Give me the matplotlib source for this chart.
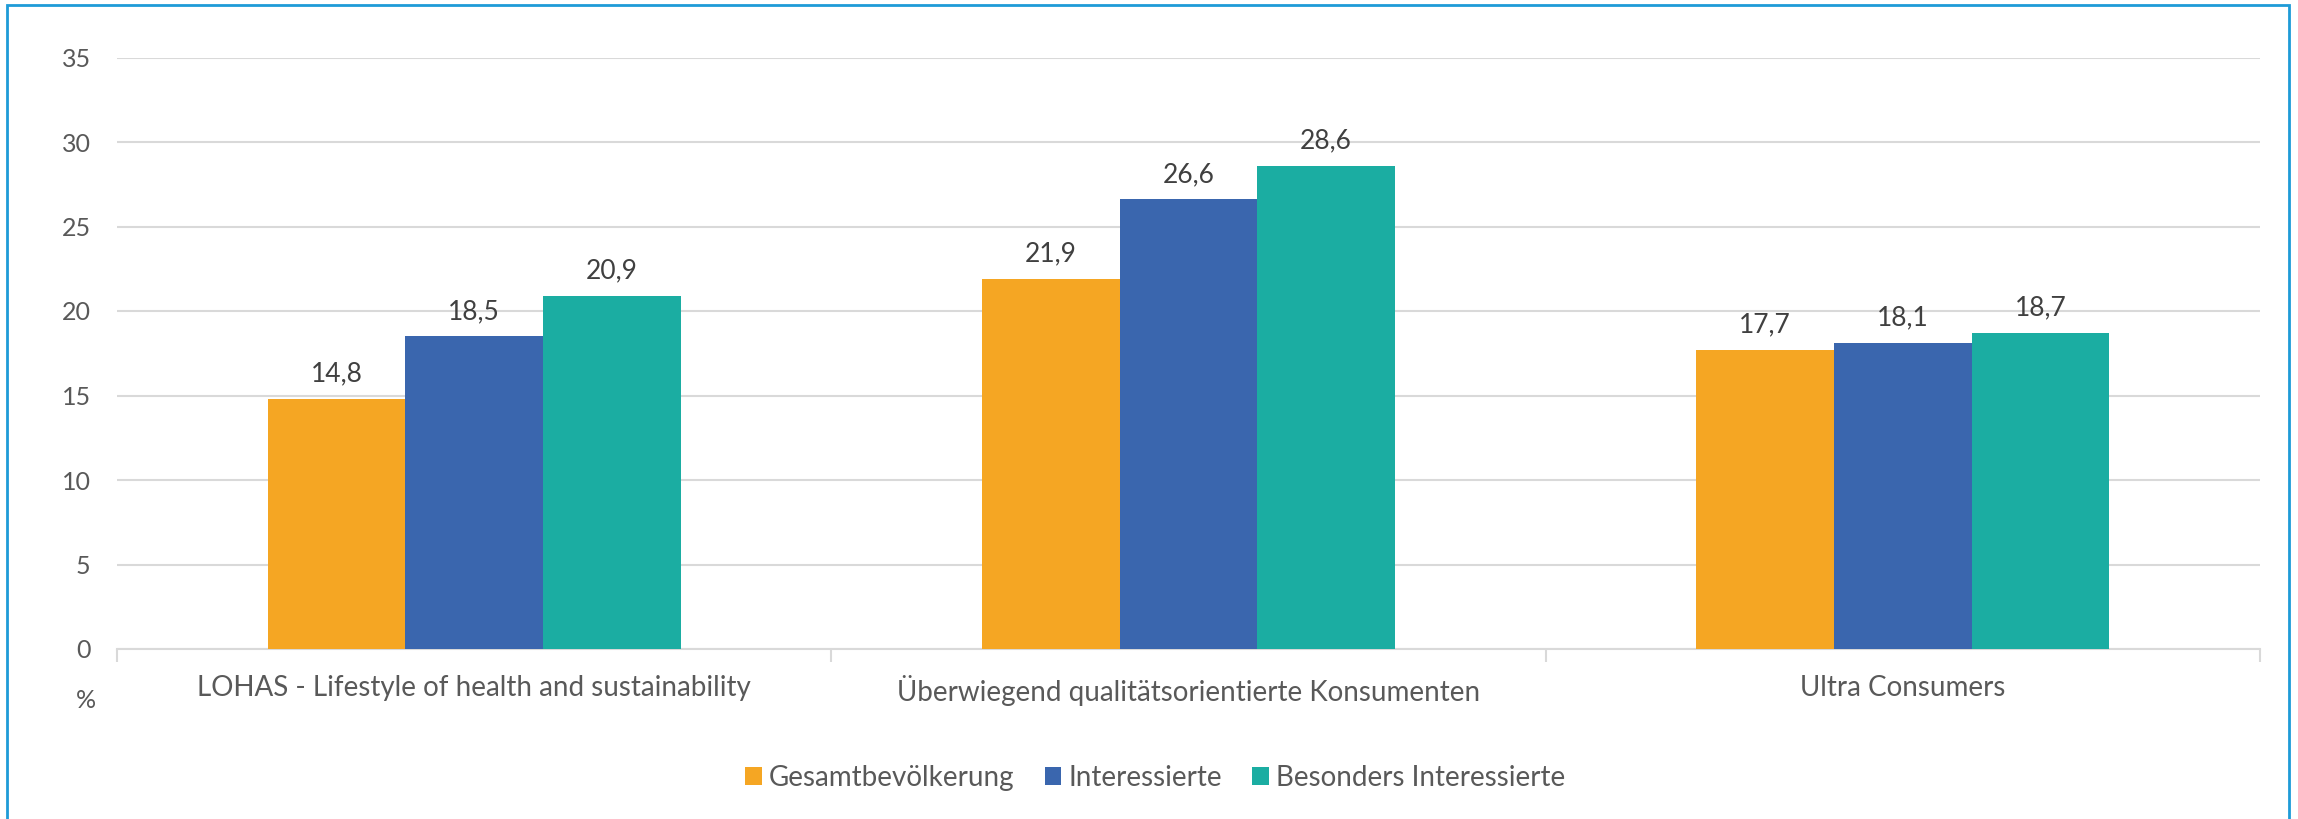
import matplotlib
matplotlib.use("Agg")
import matplotlib.pyplot as plt
from matplotlib.patches import Rectangle
import numpy as np

categories = ["LOHAS - Lifestyle of health and sustainability",
              "Überwiegend qualitätsorientierte Konsumenten",
              "Ultra Consumers"]
series_names = ["Gesamtbevölkerung", "Interessierte", "Besonders Interessierte"]
gesamt = [14.8, 21.9, 17.7]
interessierte = [18.5, 26.6, 18.1]
besonders = [20.9, 28.6, 18.7]
yticks = [0, 5, 10, 15, 20, 25, 30, 35]
colors = ["#F5A623", "#3A66AE", "#1BADA2"]

plt.rcParams['font.family'] = ['Lato', 'DejaVu Sans']
W, H = 2298, 819
fig = plt.figure(figsize=(W / 100, H / 100), dpi=100)
ax = fig.add_axes([117 / W, 1 - 649 / H, (2260 - 117) / W, (649 - 57.5) / H])

x = np.arange(len(categories))
bw = 0.1926
data = [gesamt, interessierte, besonders]
for i, (vals, c, name) in enumerate(zip(data, colors, series_names)):
    pos = x + (i - 1) * bw
    ax.bar(pos, vals, width=bw, color=c, label=name, zorder=3)
    for xb, v in zip(pos, vals):
        ax.annotate(f"{v:.1f}".replace(".", ","), (xb, v), xytext=(0, 9),
                    textcoords="offset points", ha="center", va="bottom",
                    fontsize=19, color="#404040")

ax.set_xlim(-0.5, len(categories) - 0.5)
ax.set_ylim(0, 35)
ax.set_yticks(yticks)
ax.set_yticklabels([str(t) for t in yticks], fontsize=18, color="#595959")
ax.yaxis.grid(True, color="#D9D9D9", linewidth=1.5, zorder=0)
ax.tick_params(axis="y", length=0, pad=19)
ax.set_xticks(x)
ax.set_xticklabels(categories, fontsize=20, color="#595959")
ax.tick_params(axis="x", length=0, pad=19)
# category boundary ticks
ax.set_xticks(np.arange(-0.5, len(categories)), minor=True)
ax.tick_params(axis="x", which="minor", length=9, color="#D9D9D9", width=1.5)
for s in ["top", "right", "left"]:
    ax.spines[s].set_visible(False)
ax.spines["bottom"].set_color("#D9D9D9")
ax.spines["bottom"].set_linewidth(1.5)

fig.text(86 / W, 1 - 701 / H, "%", fontsize=18, color="#595959", ha="center", va="center")

leg = fig.legend(loc="center", bbox_to_anchor=(1155 / W, 1 - 778 / H), ncol=3,
                 frameon=False, fontsize=20, handlelength=0.6, handleheight=0.6,
                 handletextpad=0.25, columnspacing=1.1)
for t in leg.get_texts():
    t.set_color("#595959")

fig.patches.append(Rectangle((7 / W, -0.02), (2289 - 7) / W, 1.02 - 5 / H,
                             transform=fig.transFigure, fill=False,
                             edgecolor="#1E9BD7", linewidth=2))

fig.savefig("out.png", dpi=100)
